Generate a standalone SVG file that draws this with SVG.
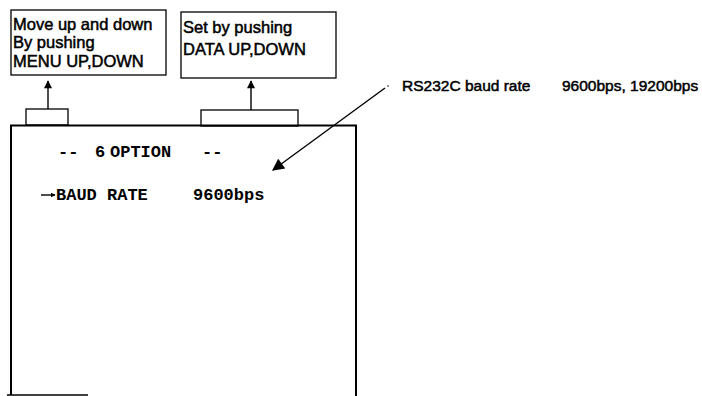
<svg xmlns="http://www.w3.org/2000/svg" width="702" height="396" viewBox="0 0 702 396">
<style>
.bx{fill:#fff;stroke:#000;stroke-width:1.3}
.sc{fill:none;stroke:#000;stroke-width:2}
.ln{stroke:#000;stroke-width:1.4;fill:none}
.t{font-family:"Liberation Sans",Arial,sans-serif;font-size:16.5px;fill:#000;stroke:#000;stroke-width:0.5}
.n{font-family:"Liberation Sans",Arial,sans-serif;font-size:15.5px;fill:#000;stroke:#000;stroke-width:0.5}
.m{font-family:"Liberation Mono","Courier New",monospace;font-size:17px;font-weight:bold;fill:#000}
</style>
<defs>
<marker id="ah" viewBox="0 0 10 10" refX="9" refY="5" markerWidth="9" markerHeight="8" markerUnits="userSpaceOnUse" orient="auto"><path d="M0,0 L10,5 L0,10 z" fill="#000"/></marker>
<marker id="ahl" viewBox="0 0 10 10" refX="9" refY="5" markerWidth="18" markerHeight="12" markerUnits="userSpaceOnUse" orient="auto"><path d="M0,0 L10,5 L0,10 z" fill="#000"/></marker>
<marker id="ahs" viewBox="0 0 10 10" refX="9" refY="5" markerWidth="5" markerHeight="5" markerUnits="userSpaceOnUse" orient="auto"><path d="M0,0 L10,5 L0,10 z" fill="#000"/></marker>
</defs>
<g id="menu-note">
<rect class="bx" x="11" y="10" width="155" height="65"/>
<text class="t" x="13" y="30">Move up and down</text>
<text class="t" x="13" y="48">By pushing</text>
<text class="t" x="13" y="67">MENU UP,DOWN</text>
</g>
<g id="data-note">
<rect class="bx" x="181" y="12" width="155" height="66"/>
<text class="t" x="183" y="33">Set by pushing</text>
<text class="t" x="183" y="55">DATA UP,DOWN</text>
</g>
<g id="screen">
<rect class="bx" x="26" y="109" width="42" height="16"/>
<rect class="bx" x="201" y="110" width="97" height="16"/>
<path class="sc" d="M11,395 L11,125.5 L356,125.5 L356,396"/>
<path class="ln" d="M7,395 L88,395"/>
<text class="m" x="58" y="157">--</text>
<text class="m" x="95" y="157">6</text>
<text class="m" x="110" y="157">OPTION</text>
<text class="m" x="202" y="157">--</text>
<line class="ln" x1="41" y1="195" x2="55" y2="195" stroke-width="1" marker-end="url(#ahs)"/>
<text class="m" x="56" y="200">BAUD RATE</text>
<text class="m" x="193" y="200">9600bps</text>
</g>
<g id="baud-note">
<circle cx="388" cy="86" r="0.8" fill="#000"/>
<text class="n" x="402" y="91">RS232C baud rate</text>
<text class="n" x="562" y="91">9600bps, 19200bps</text>
</g>
<g id="connectors">
<line class="ln" x1="48" y1="109" x2="48" y2="81" marker-end="url(#ah)"/>
<line class="ln" x1="251" y1="110" x2="251" y2="81" marker-end="url(#ah)"/>
<line class="ln" x1="385" y1="88" x2="273" y2="170" marker-end="url(#ahl)"/>
</g>
</svg>
